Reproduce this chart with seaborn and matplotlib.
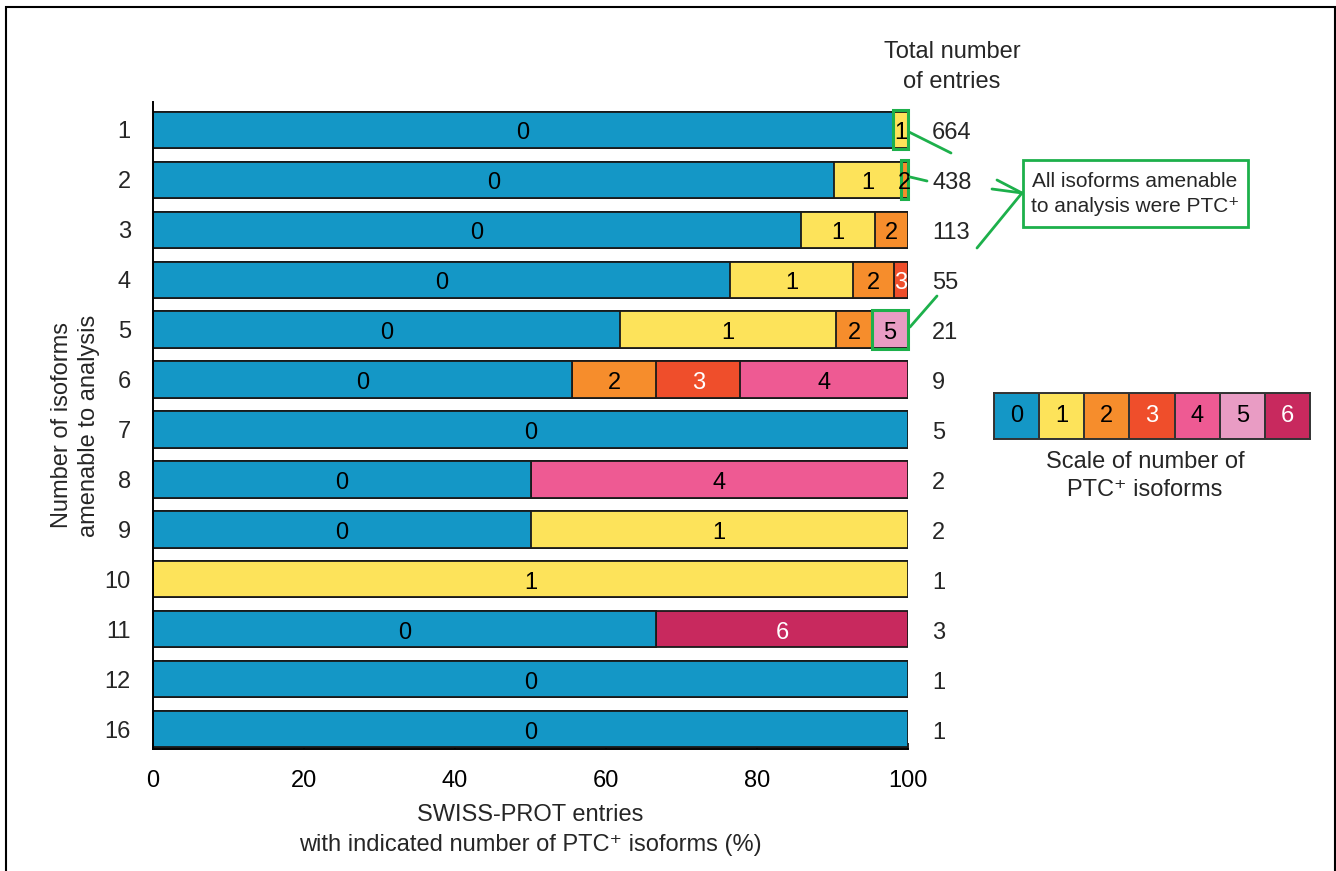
import numpy as np
import matplotlib
matplotlib.use("Agg")
import matplotlib.pyplot as plt
import seaborn as sns
from matplotlib.patches import Rectangle
from matplotlib.lines import Line2D
from matplotlib.colors import ListedColormap

# Number of isoforms amenable to analysis (one bar per group)
rows = ["1", "2", "3", "4", "5", "6", "7", "8", "9", "10", "11", "12", "16"]
totals = [664, 438, 113, 55, 21, 9, 5, 2, 2, 1, 3, 1, 1]

# Entries per group having 0..6 PTC+ isoforms
n0 = [651, 395, 97, 42, 13, 5, 5, 1, 1, 0, 2, 1, 1]
n1 = [13, 39, 11, 9, 6, 0, 0, 0, 1, 1, 0, 0, 0]
n2 = [0, 4, 5, 3, 1, 1, 0, 0, 0, 0, 0, 0, 0]
n3 = [0, 0, 0, 1, 0, 1, 0, 0, 0, 0, 0, 0, 0]
n4 = [0, 0, 0, 0, 0, 2, 0, 1, 0, 0, 0, 0, 0]
n5 = [0, 0, 0, 0, 1, 0, 0, 0, 0, 0, 0, 0, 0]
n6 = [0, 0, 0, 0, 0, 0, 0, 0, 0, 0, 1, 0, 0]

scale_labels = ["0", "1", "2", "3", "4", "5", "6"]
colors = ["#1497C6", "#FDE35A", "#F68D2C", "#EF4E2B", "#EE5A93", "#E99CC4", "#C8295E"]
white_text = {3, 6}
edge = "#1a1a1a"
green = "#1DB04B"
FS = 17

sns.set_style("ticks")
plt.rcParams["font.family"] = ["Liberation Sans", "DejaVu Sans"]

W, H = 1336, 871
fig = plt.figure(figsize=(W / 100, H / 100), dpi=100)
ax = fig.add_axes([153 / W, 1 - 749 / H, 755 / W, 647 / H])


def fx(px):
    return px / W


def fy(py):
    return 1 - py / H


counts = np.array([n0, n1, n2, n3, n4, n5, n6], dtype=float)
pct = counts / np.array(totals, dtype=float) * 100
cum = pct.cumsum(axis=0)

# Stacked bars: draw cumulative totals from the last class down to the first
bar_h = 0.73
for k in range(6, -1, -1):
    sns.barplot(x=cum[k], y=rows, order=rows, orient="h", color=colors[k],
                saturation=1, width=bar_h, edgecolor=edge, linewidth=1.3,
                ax=ax)

# Segment labels and totals
for i in range(len(rows)):
    for k in range(7):
        if counts[k, i] > 0:
            cx = cum[k, i] - pct[k, i] / 2
            ax.text(cx, i + 0.02, scale_labels[k], ha="center",
                    va="center_baseline", fontsize=FS,
                    color="white" if k in white_text else "black", zorder=8)
    ax.text(103.2, i + 0.02, str(totals[i]), ha="left", va="center_baseline",
            fontsize=FS, clip_on=False)

# Highlight segments where all analysable isoforms are PTC+
highlights = [(0, 1), (1, 2), (4, 5)]
for i, k in highlights:
    left = cum[k, i] - pct[k, i]
    ax.add_patch(Rectangle((left, i - bar_h / 2 - 0.03), pct[k, i],
                           bar_h + 0.05, fill=False, ec=green, lw=2.2,
                           zorder=6, clip_on=False))

ax.set_xlim(0, 100)
ax.set_ylim(12.4, -0.56)
ax.set_xticks([0, 20, 40, 60, 80, 100])
ax.tick_params(axis="x", direction="in", length=4.5, width=1.2, pad=15,
               labelsize=FS, colors="black")
ax.tick_params(axis="y", length=0, pad=16, labelsize=FS)
sns.despine(ax=ax)
for s in ("left", "bottom"):
    ax.spines[s].set_linewidth(1.4)
    ax.spines[s].set_color("black")

ax.set_xlabel("SWISS-PROT entries\nwith indicated number of PTC\u207a isoforms (%)",
              fontsize=FS, labelpad=9, linespacing=1.45)
ax.set_ylabel("Number of isoforms\namenable to analysis", fontsize=FS,
              labelpad=3, linespacing=1.3)

fig.text(fx(952), fy(67), "Total number\nof entries", ha="center",
         va="center", fontsize=FS, linespacing=1.45)

# Colour scale
lax = fig.add_axes([fx(994), fy(439), 316 / W, 46 / H])
sns.heatmap(np.arange(7).reshape(1, -1), cmap=ListedColormap(colors),
            vmin=-0.5, vmax=6.5, annot=True, annot_kws={"fontsize": FS},
            cbar=False, linewidths=1.2, linecolor="#333333",
            xticklabels=False, yticklabels=False, ax=lax)
for j, t in enumerate(lax.texts):
    t.set_color("white" if j in white_text else "black")
for s in lax.spines.values():
    s.set_visible(True)
    s.set_linewidth(1.4)
    s.set_color("#333333")
lax.tick_params(length=0)
fig.text(fx(1145), fy(476), "Scale of number of\nPTC\u207a isoforms",
         ha="center", va="center", fontsize=FS, linespacing=1.4)

# Call-out box and connectors
fig.add_artist(Rectangle((fx(1023), fy(227)), (1248 - 1023) / W, 67 / H,
                         transform=fig.transFigure, fill=False, ec=green,
                         lw=2))
fig.text(fx(1135), fy(194), "All isoforms amenable\nto analysis were PTC\u207a",
         ha="center", va="center", fontsize=15, linespacing=1.35)
connectors = [((909, 132), (951, 153)), ((910, 177), (927, 181)),
              ((997, 180), (1022, 193)), ((992, 189), (1022, 193)),
              ((977, 248), (1022, 193)), ((910, 327), (937, 296))]
for (x0, y0), (x1, y1) in connectors:
    fig.add_artist(Line2D([fx(x0), fx(x1)], [fy(y0), fy(y1)],
                          transform=fig.transFigure, color=green, lw=2))

# Outer frame
fig.add_artist(Rectangle((fx(6), -0.05), (1335 - 6) / W, fy(7) + 0.05,
                         transform=fig.transFigure, fill=False, ec="black",
                         lw=1.5))

fig.savefig("out.png", dpi=100, facecolor="white")
